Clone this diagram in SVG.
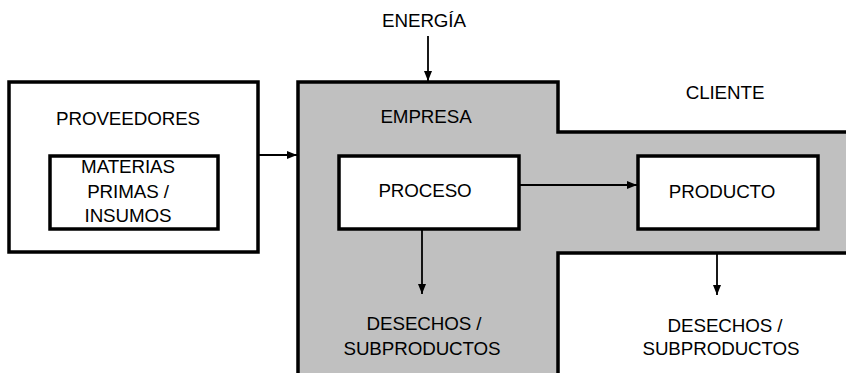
<svg xmlns="http://www.w3.org/2000/svg" width="846" height="373" viewBox="0 0 846 373">
<defs>
<style>
.t{font-family:"Liberation Sans",Arial,sans-serif;font-size:18.8px;fill:#000;text-anchor:middle;letter-spacing:-0.1px}
.box{fill:#fff;stroke:#000;stroke-width:3.5}
.c{stroke:#000;stroke-width:1.8;fill:none;marker-end:url(#ah)}
</style>
<marker id="ah" viewBox="0 0 10 10" refX="10" refY="5" markerWidth="10" markerHeight="10" markerUnits="userSpaceOnUse" orient="auto">
<path d="M0,1 L10,5 L0,9 Z" fill="#000"/>
</marker>
</defs>
<rect width="846" height="373" fill="#fff"/>
<g id="empresa">
<path d="M298,380 L298,82 L558,82 L558,132 L850,132 L850,253 L558,253 L558,380 Z" fill="#c0c0c0" stroke="#000" stroke-width="3.5"/>
<text class="t" x="426" y="123">EMPRESA</text>
</g>
<g id="proveedores">
<rect class="box" x="9" y="82" width="249" height="170"/>
<text class="t" x="128" y="125">PROVEEDORES</text>
</g>
<g id="materias">
<rect class="box" x="50" y="156" width="168" height="73"/>
<text class="t" x="128" y="173">MATERIAS</text>
<text class="t" x="128" y="198">PRIMAS /</text>
<text class="t" x="128" y="222">INSUMOS</text>
</g>
<g id="proceso">
<rect class="box" x="339" y="156" width="180" height="73"/>
<text class="t" x="425" y="197">PROCESO</text>
</g>
<g id="producto">
<rect class="box" x="638" y="156" width="180" height="73"/>
<text class="t" x="722" y="198">PRODUCTO</text>
</g>
<g id="energia"><text class="t" x="424" y="27">ENERGÍA</text></g>
<g id="cliente"><text class="t" x="725" y="99">CLIENTE</text></g>
<g id="desechos1">
<text class="t" x="424" y="330">DESECHOS /</text>
<text class="t" x="422" y="355">SUBPRODUCTOS</text>
</g>
<g id="desechos2">
<text class="t" x="725" y="332">DESECHOS /</text>
<text class="t" x="721" y="355">SUBPRODUCTOS</text>
</g>
<g id="connectors">
<line class="c" x1="258" y1="155" x2="297" y2="155"/>
<line class="c" x1="428" y1="36" x2="428" y2="81"/>
<line class="c" x1="519" y1="185" x2="637" y2="185"/>
<line class="c" x1="422" y1="229" x2="422" y2="294"/>
<line class="c" x1="717" y1="253" x2="717" y2="295"/>
</g>
</svg>
